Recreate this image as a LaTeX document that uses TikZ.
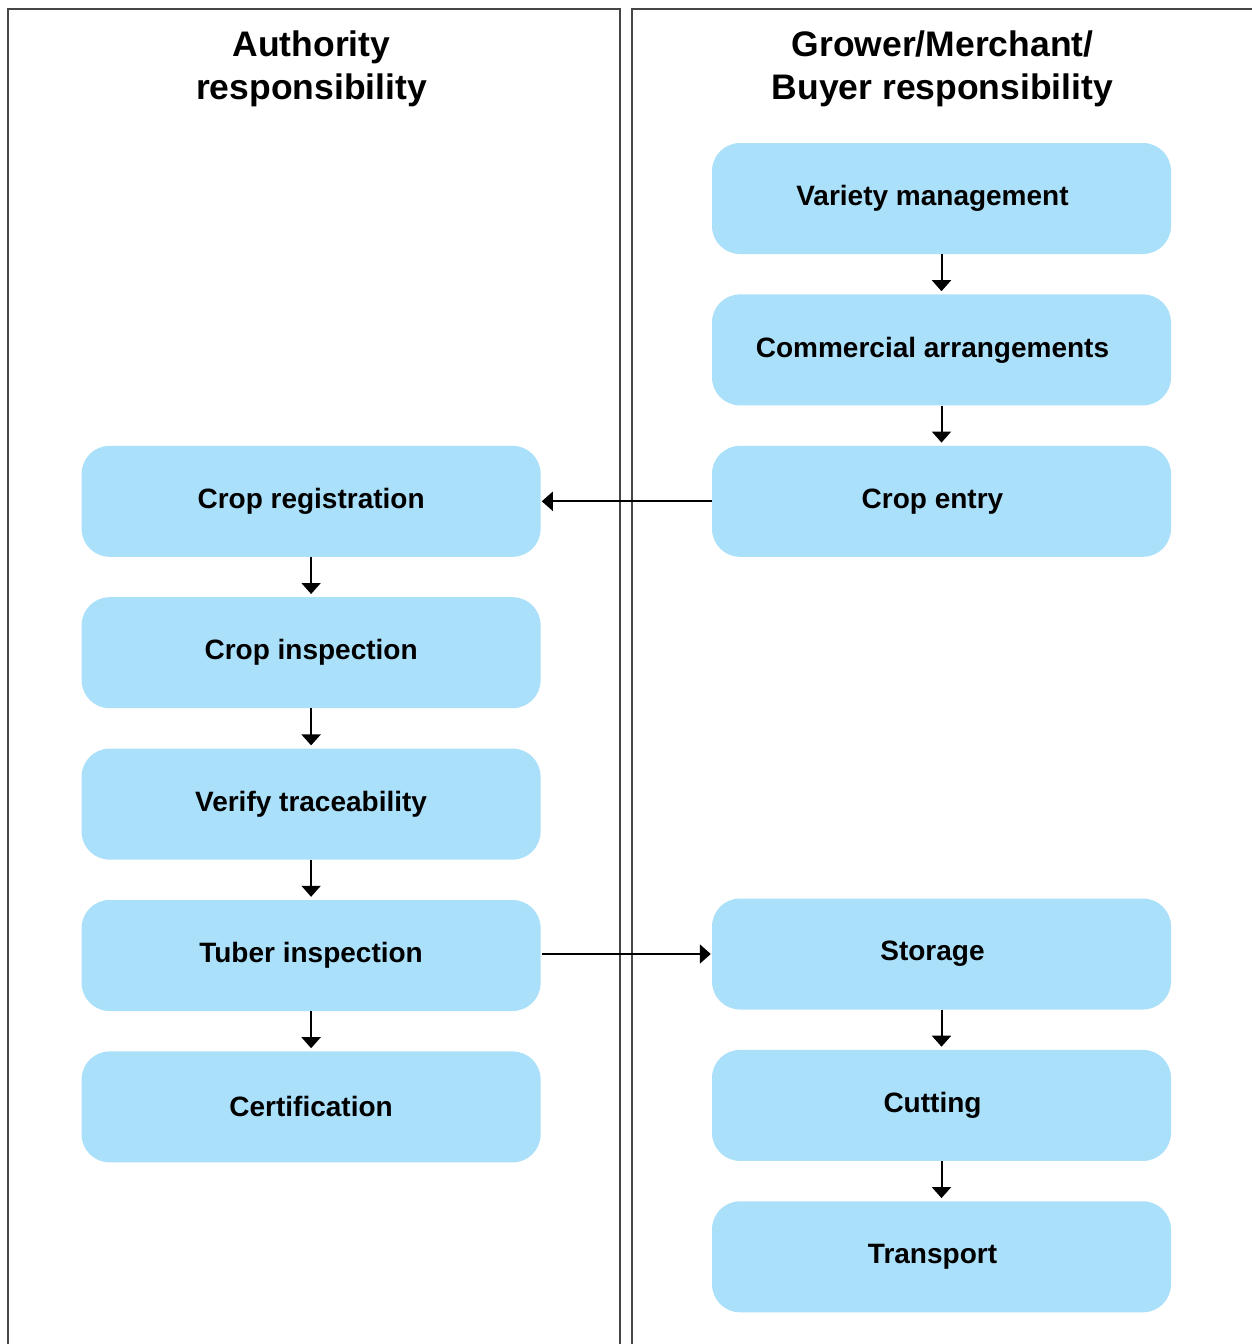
\documentclass[tikz,border=0pt]{standalone}
\usepackage{fontspec}
\setmainfont{Liberation Sans}
\usetikzlibrary{positioning,arrows.meta}

\definecolor{boxblue}{RGB}{170,224,250}
\definecolor{framegray}{RGB}{70,70,70}

\tikzset{
    stage/.style={rounded corners=28pt, fill=boxblue, minimum width=459pt,
        minimum height=111pt, inner sep=0pt,
        font=\bfseries\fontsize{28}{34}\selectfont},
    growerstage/.style={stage, execute at end node=\hspace*{18pt}},
    heading/.style={align=center, font=\bfseries\fontsize{35.5}{43}\selectfont},
    flow/.style={-{Triangle[length=11pt,width=19pt]}, line width=2pt},
    frame/.style={draw=framegray, line width=1.2pt}
}

\begin{document}
\begin{tikzpicture}[x=1pt, y=-1pt, node distance=40pt]
    \useasboundingbox (0,0) rectangle (1252,1344);
    \draw[frame] (8,1344) -- (8,9) -- (620,9) -- (620,1344);
    \draw[frame] (632,1344) -- (632,9) -- (1252,9);
    \node[heading] (authority) at (311.5,69) {Authority\\responsibility};
    \node[heading] (grower) at (942.5,69) {Grower/Merchant/\\Buyer responsibility};
    \node[growerstage] (variety) at (941.5,198.5) {Variety management};
    \node[growerstage] (commercial) [below=of variety] {Commercial arrangements};
    \node[growerstage] (entry) [below=of commercial] {Crop entry};
    \node[stage] (registration) [left=171pt of entry] {Crop registration};
    \node[stage] (inspection) [below=of registration] {Crop inspection};
    \node[stage] (traceability) [below=of inspection] {Verify traceability};
    \node[stage] (tuber) [below=of traceability] {Tuber inspection};
    \node[stage] (certification) [below=of tuber] {Certification};
    \node[growerstage] (storage) [right=171pt of tuber, yshift=1.5pt] {Storage};
    \node[growerstage] (cutting) [below=of storage] {Cutting};
    \node[growerstage] (transport) [below=of cutting] {Transport};
    \draw[flow, shorten >=3pt] (variety) -- (commercial);
    \draw[flow, shorten >=3pt] (commercial) -- (entry);
    \draw[flow, shorten >=1pt] (entry) -- (registration);
    \draw[flow, shorten >=3pt] (registration) -- (inspection);
    \draw[flow, shorten >=3pt] (inspection) -- (traceability);
    \draw[flow, shorten >=3pt] (traceability) -- (tuber);
    \draw[flow, shorten >=3pt] (tuber) -- (certification);
    \draw[flow, shorten <=1pt, shorten >=1pt] (tuber.east |- storage) -- (storage.west);
    \draw[flow, shorten >=3pt] (storage) -- (cutting);
    \draw[flow, shorten >=3pt] (cutting) -- (transport);
\end{tikzpicture}
\end{document}
